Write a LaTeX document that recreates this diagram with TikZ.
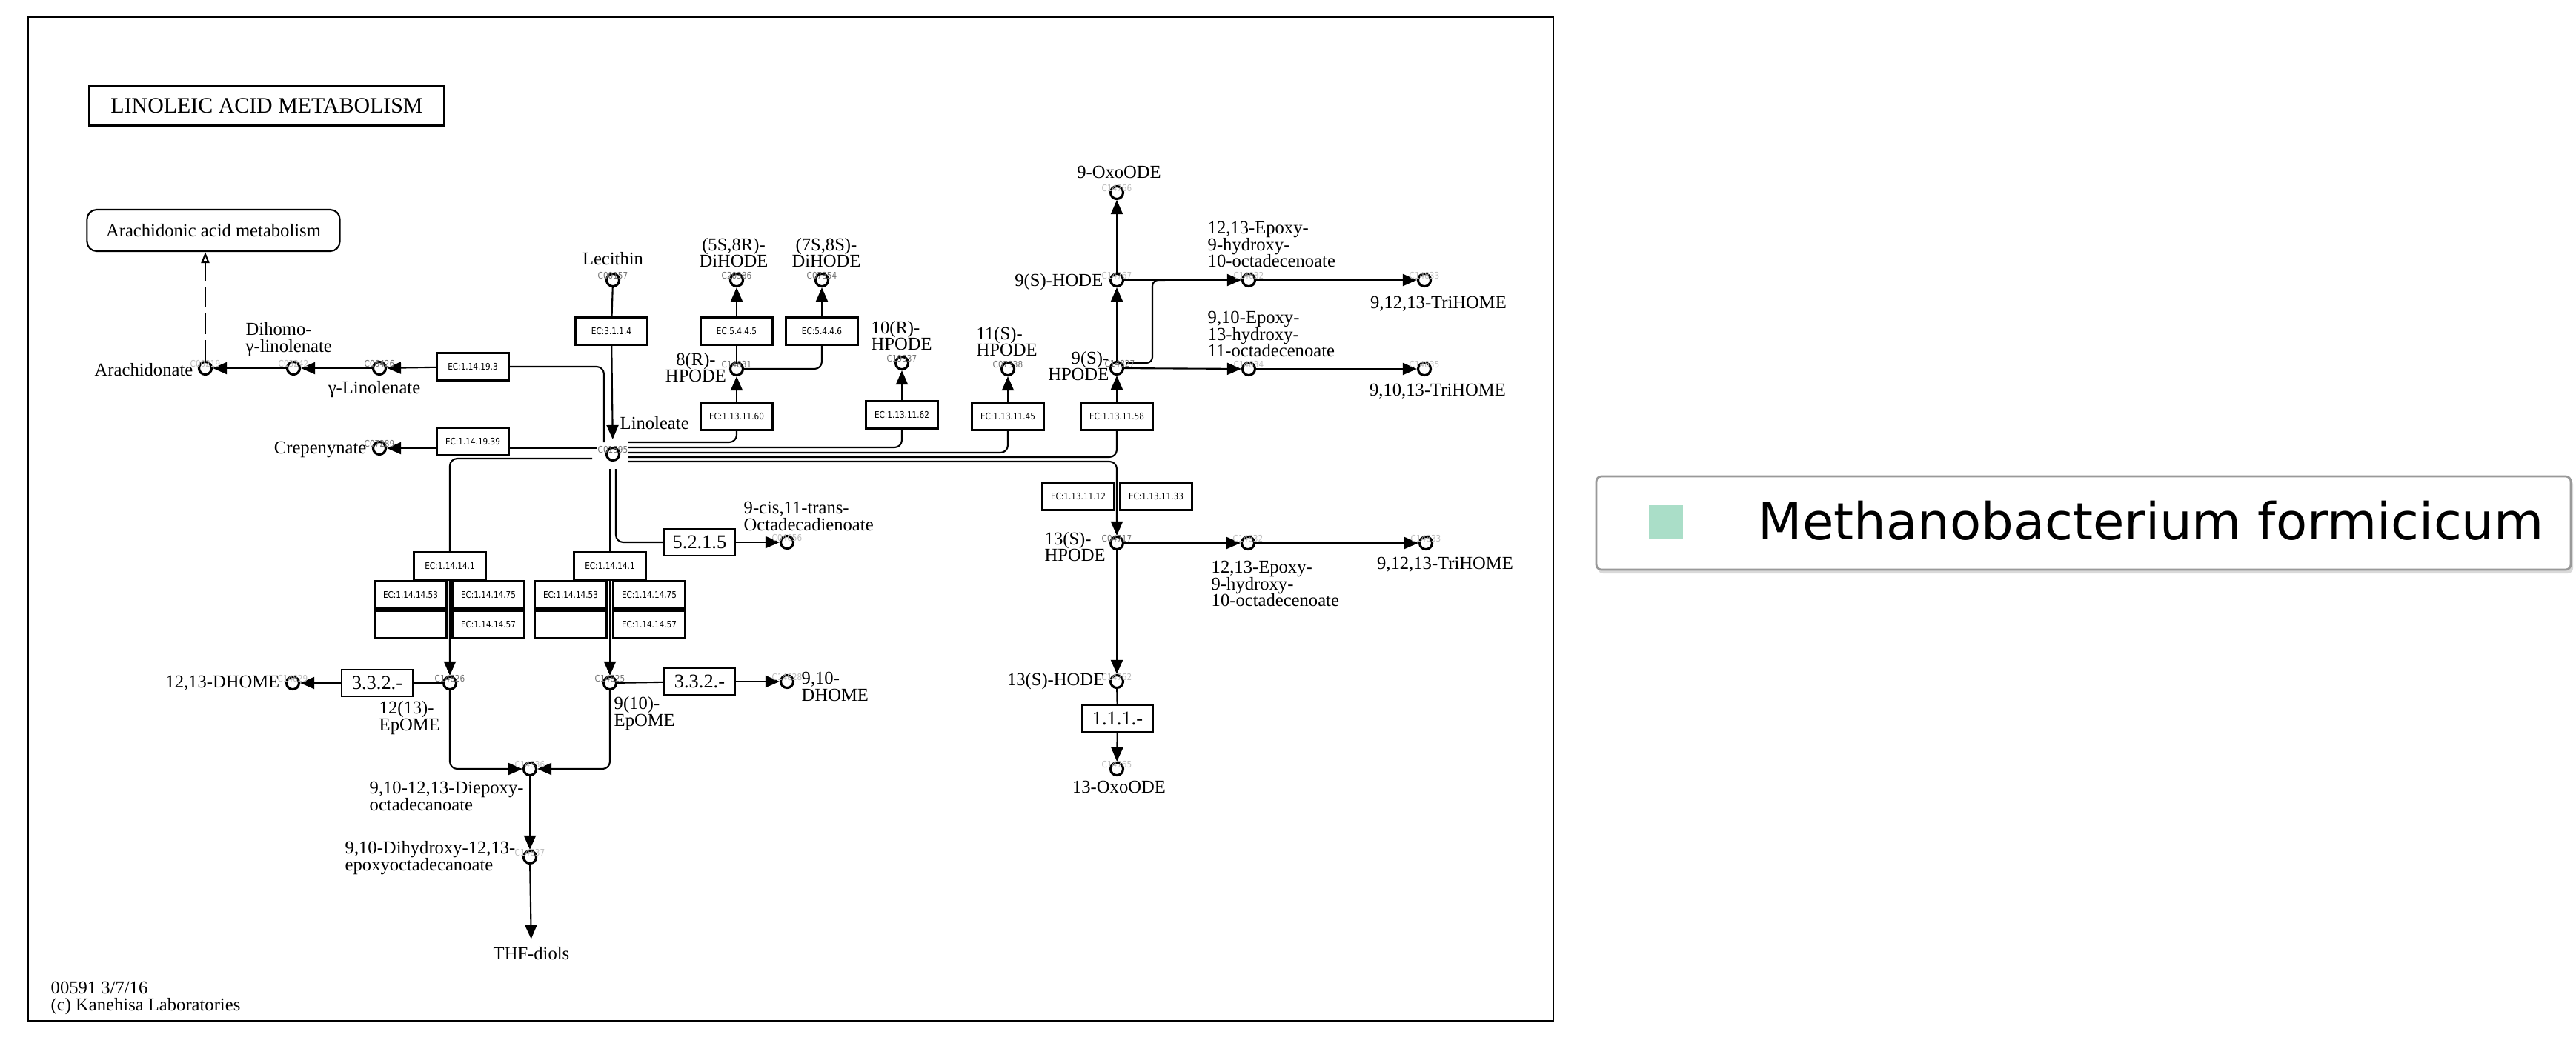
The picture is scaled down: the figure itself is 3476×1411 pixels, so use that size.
\documentclass[tikz,border=0pt]{standalone}
\usepackage{fontspec}
\setmainfont{Liberation Serif}
\newfontfamily\ecfam{DejaVu Sans}[FakeStretch=0.85]
\newfontfamily\legfam{DejaVu Sans}
\usetikzlibrary{arrows.meta,calc}
\pgfdeclarelayer{bg}
\pgfsetlayers{bg,main}
\definecolor{mint}{RGB}{170,222,200}
\tikzset{
 ln/.style={line width=0.6pt},
 arr/.style={ln, -{Triangle[length=0.19cm,width=0.16cm]}},
 rc/.style={rounded corners=0.1cm},
 cpd/.style={circle, draw, line width=0.9pt, fill=white, minimum size=0.17cm, inner sep=0pt},
 ec/.style={draw, line width=0.85pt, fill=white, minimum width=0.97cm, minimum height=0.37cm, inner sep=0pt, font=\ecfam\fontsize{3.5}{4}\selectfont},
 numbox/.style={draw, line width=0.6pt, fill=white, minimum width=0.96cm, minimum height=0.36cm, inner sep=0pt, font=\fontsize{7.5}{8}\selectfont},
 lbl/.style={inner sep=0pt, font=\fontsize{7}{6.5}\selectfont, align=center},
 lbll/.style={lbl, align=left, anchor=west},
 lblr/.style={lbl, align=right, anchor=east},
 idd/.style={inner sep=0pt, font=\ecfam\fontsize{3.5}{4}\selectfont, text=black!55},
 idl/.style={idd, text=black!25},
}
\begin{document}
\begin{tikzpicture}[x=0.01cm,y=-0.01cm]
\useasboundingbox (0,0) rectangle (3476,1411);
% frame
\draw[line width=0.8pt] (38,23) rectangle (2096,1378);
\node[draw, line width=0.9pt, minimum width=4.79cm, minimum height=0.53cm, inner sep=0pt, font=\fontsize{8.5}{9}\selectfont] (title) at (360,143) {LINOLEIC ACID METABOLISM};
\node[draw, line width=0.6pt, rounded corners=0.13cm, minimum width=3.41cm, minimum height=0.56cm, inner sep=0pt, font=\fontsize{7}{8}\selectfont] (aam) at (288,311) {Arachidonic acid metabolism};

% compounds
\node[cpd] (lin) at (827,613) {};
\node[cpd] (lec) at (827,378) {};
\node[cpd] (dh58) at (994,378) {};
\node[cpd] (dh78) at (1109,378) {};
\node[cpd] (hp8) at (994,498) {};
\node[cpd] (hp10) at (1217,490) {};
\node[cpd] (hp11) at (1360,498) {};
\node[cpd] (hp9) at (1507,497) {};
\node[cpd] (hode9) at (1507,378) {};
\node[cpd] (oxo9) at (1507,260) {};
\node[cpd] (epa) at (1685,378) {};
\node[cpd] (tri1) at (1922,378) {};
\node[cpd] (epb) at (1685,498) {};
\node[cpd] (tri2) at (1922,498) {};
\node[cpd] (hp13) at (1507,733) {};
\node[cpd] (epc) at (1684,733) {};
\node[cpd] (tri3) at (1924,733) {};
\node[cpd] (hode13) at (1507,920) {};
\node[cpd] (oxo13) at (1507,1038) {};
\node[cpd] (arach) at (277,497) {};
\node[cpd] (dihomo) at (396,497) {};
\node[cpd] (glin) at (512,497) {};
\node[cpd] (crep) at (512,605) {};
\node[cpd] (epo1) at (607,922) {};
\node[cpd] (epo2) at (823,922) {};
\node[cpd] (dhome1) at (395,922) {};
\node[cpd] (dhome2) at (1062,920) {};
\node[cpd] (cis) at (1062,732) {};
\node[cpd] (diep) at (715,1038) {};
\node[cpd] (dihyd) at (715,1157) {};

% enzymes
\node[ec] (e3114) at (825,447) {EC:3.1.1.4};
\node[ec] (e5445) at (994,447) {EC:5.4.4.5};
\node[ec] (e5446) at (1109,447) {EC:5.4.4.6};
\node[ec] (e60) at (994,562) {EC:1.13.11.60};
\node[ec] (e62) at (1217,560) {EC:1.13.11.62};
\node[ec] (e45) at (1360,562) {EC:1.13.11.45};
\node[ec] (e58) at (1507,562) {EC:1.13.11.58};
\node[ec] (e12) at (1455,670) {EC:1.13.11.12};
\node[ec] (e33) at (1560,670) {EC:1.13.11.33};
\node[ec] (e193) at (638,495) {EC:1.14.19.3};
\node[ec] (e1939) at (638,596) {EC:1.14.19.39};
\node[ec] (l1) at (607,764) {EC:1.14.14.1};
\node[ec] (l53) at (554,803) {EC:1.14.14.53};
\node[ec] (l75) at (659,803) {EC:1.14.14.75};
\node[ec] (lx) at (554,843) {};
\node[ec] (l57) at (659,843) {EC:1.14.14.57};
\node[ec] (r1) at (823,764) {EC:1.14.14.1};
\node[ec] (r53) at (770,803) {EC:1.14.14.53};
\node[ec] (r75) at (876,803) {EC:1.14.14.75};
\node[ec] (rx) at (770,843) {};
\node[ec] (r57) at (876,843) {EC:1.14.14.57};
\node[numbox] (h1) at (509,922) {3.3.2.-};
\node[numbox] (h2) at (944,920) {3.3.2.-};
\node[numbox] (i5215) at (944,732) {5.2.1.5};
\node[numbox] (o111) at (1508,970) {1.1.1.-};
\node[lbl] (thf) at (717,1287) {THF-diols};

% free ends near the Linoleate hub
\coordinate (c1) at (815,597);
\coordinate (c2) at (805,605);
\coordinate (c3) at (799,619);
\coordinate (c4) at (823,633);
\coordinate (c5) at (831,633);
\coordinate (q1) at (848,597);
\coordinate (q2) at (848,604);
\coordinate (q3) at (848,611);
\coordinate (q4) at (848,617);
\coordinate (q5) at (848,623);
\coordinate (k1) at (1519,490);
\coordinate (k2) at (1555,490);
\coordinate (k3) at (1555,378);
\coordinate (k4) at (1572,378);

\begin{pgfonlayer}{bg}
\fill[white] (0,0) rectangle (3476,1411);
\draw[ln] (lec) -- (e3114);
\draw[arr, shorten >=0.1cm] (e3114) -- (lin);
\draw[ln, rc] (c1) |- (e193);
\draw[arr] (e193) -- (glin);
\draw[arr] (glin) -- (dihomo);
\draw[arr] (dihomo) -- (arach);
\draw[ln, dash pattern=on 0.28cm off 0.08cm, -{Triangle[open, length=0.15cm, width=0.11cm]}] (arach) -- (arach |- aam.south);
\draw[arr] (c2) -- (crep);
\draw[arr, rc] (c3) -| (epo1);
\draw[arr] (c4) -- (epo2);
\draw[ln, rc] (c5) |- (i5215);
\draw[arr] (i5215) -- (cis);
\draw[ln, rc] (q1) -| (e60);
\draw[arr] (e60) -- (hp8);
\draw[ln, rc] (q2) -| (e62);
\draw[arr] (e62) -- (hp10);
\draw[ln, rc] (q3) -| (e45);
\draw[arr] (e45) -- (hp11);
\draw[ln, rc] (q4) -| (e58);
\draw[arr] (e58) -- (hp9);
\draw[arr, rc] (q5) -| (hp13);
\draw[ln] (hp8) -- (e5445);
\draw[arr] (e5445) -- (dh58);
\draw[ln, rc] (hp8) -| (e5446);
\draw[arr] (e5446) -- (dh78);
\draw[arr] (hp9) -- (hode9);
\draw[arr] (hode9) -- (oxo9);
\draw[arr] (hode9) -- (epa);
\draw[arr] (epa) -- (tri1);
\draw[ln, rounded corners=0.08cm] (k1) -- (k2) -- (k3) -- (k4);
\draw[arr] (hp9) -- (epb);
\draw[arr] (epb) -- (tri2);
\draw[arr] (hp13) -- (epc);
\draw[arr] (epc) -- (tri3);
\draw[arr] (hp13) -- (hode13);
\draw[ln] (hode13) -- (o111);
\draw[arr] (o111) -- (oxo13);
\draw[ln] (epo1) -- (h1);
\draw[arr] (h1) -- (dhome1);
\draw[ln] (epo2) -- (h2);
\draw[arr] (h2) -- (dhome2);
\draw[arr, rc] (epo1) |- (diep);
\draw[arr, rc] (epo2) |- (diep);
\draw[arr] (diep) -- (dihyd);
\draw[arr, shorten >=0.1cm] (dihyd) -- (thf);
\end{pgfonlayer}

% compound labels
\node[lbl] at (827,349) {Lecithin};
\node[lbl] at (990,341) {(5S,8R)-\\DiHODE};
\node[lbl] at (1115,341) {(7S,8S)-\\DiHODE};
\node[lbl] at (939,496) {8(R)-\\HPODE};
\node[lbll] at (1175,453) {10(R)-\\HPODE};
\node[lbll] at (1317,461) {11(S)-\\HPODE};
\node[lblr] at (1497,494) {9(S)-\\HPODE};
\node[lblr] at (1489,381) {9(S)-HODE};
\node[lbl] at (1510,232) {9-OxoODE};
\node[lbll] at (1629,330) {12,13-Epoxy-\\9-hydroxy-\\10-octadecenoate};
\node[lbl] at (1941,410) {9,12,13-TriHOME};
\node[lbll] at (1629,451) {9,10-Epoxy-\\13-hydroxy-\\11-octadecenoate};
\node[lbl] at (1940,528) {9,10,13-TriHOME};
\node[lbll] at (1409,738) {13(S)-\\HPODE};
\node[lbll] at (1634,788) {12,13-Epoxy-\\9-hydroxy-\\10-octadecenoate};
\node[lbl] at (1950,762) {9,12,13-TriHOME};
\node[lblr] at (1491,920) {13(S)-HODE};
\node[lbl] at (1510,1062) {13-OxoODE};
\node[lblr] at (261,499) {Arachidonate};
\node[lbll] at (331,458) {Dihomo-\\γ-linolenate};
\node[lbl] at (505,526) {γ-Linolenate};
\node[lblr] at (495,607) {Crepenynate};
\node[lbll] at (836,571) {Linoleate};
\node[lbll] at (1003,697) {9-cis,11-trans-\\Octadecadienoate};
\node[lblr] at (378,922) {12,13-DHOME};
\node[lbll] at (511,969) {12(13)-\\EpOME};
\node[lbll] at (828,963) {9(10)-\\EpOME};
\node[lbll] at (1081,927) {9,10-\\DHOME};
\node[lbll] at (498,1075) {9,10-12,13-Diepoxy-\\octadecanoate};
\node[lbll] at (465,1158) {9,10-Dihydroxy-12,13-\\epoxyoctadecanoate};
\node[lbll] at (68,1347) {00591 3/7/16\\(c) Kanehisa Laboratories};

% compound IDs
\node[idd] at ($(lin)+(0,-6)$) {C01595};
\node[idd] at ($(lec)+(0,-6)$) {C00157};
\node[idd] at ($(dh58)+(0,-6)$) {C20386};
\node[idd] at ($(dh78)+(0,-6)$) {C07354};
\node[idd] at ($(hp8)+(0,-6)$) {C14831};
\node[idd] at ($(hp10)+(0,-6)$) {C19937};
\node[idd] at ($(hp11)+(0,-6)$) {C07338};
\node[idd] at ($(hp9)+(4,-6)$) {C14827};
\node[idl] at ($(hode9)+(0,-6)$) {C14767};
\node[idl] at ($(oxo9)+(0,-6)$) {C14766};
\node[idl] at ($(epa)+(0,-6)$) {C14832};
\node[idl] at ($(tri1)+(0,-6)$) {C14833};
\node[idl] at ($(epb)+(0,-6)$) {C14834};
\node[idl] at ($(tri2)+(0,-6)$) {C14835};
\node[idd] at ($(hp13)+(0,-6)$) {C04717};
\node[idl] at ($(epc)+(0,-6)$) {C14832};
\node[idl] at ($(tri3)+(0,-6)$) {C14833};
\node[idl] at ($(hode13)+(0,-6)$) {C14762};
\node[idl] at ($(oxo13)+(0,-6)$) {C14765};
\node[idl] at ($(arach)+(0,-6)$) {C00219};
\node[idl] at ($(dihomo)+(0,-6)$) {C03242};
\node[idd] at ($(glin)+(0,-6)$) {C06426};
\node[idd] at ($(crep)+(0,-6)$) {C07289};
\node[idd] at ($(epo1)+(0,-6)$) {C14826};
\node[idd] at ($(epo2)+(0,-6)$) {C14825};
\node[idl] at ($(dhome1)+(0,-6)$) {C14829};
\node[idl] at ($(dhome2)+(0,-6)$) {C14828};
\node[idl] at ($(cis)+(0,-6)$) {C04056};
\node[idl] at ($(diep)+(0,-6)$) {C14836};
\node[idl] at ($(dihyd)+(0,-6)$) {C14837};

% legend
\fill[black!15, rounded corners=0.07cm] (2156,647) rectangle (3472,774);
\draw[black!40, line width=0.8pt, fill=white, rounded corners=0.07cm] (2154,643) rectangle (3469,769);
\fill[mint] (2225,682) rectangle (2271,728);
\node[inner sep=0pt, anchor=west, font=\legfam\fontsize{19.6}{22}\selectfont] (leg) at (2372,703) {Methanobacterium formicicum};
\end{tikzpicture}
\end{document}
